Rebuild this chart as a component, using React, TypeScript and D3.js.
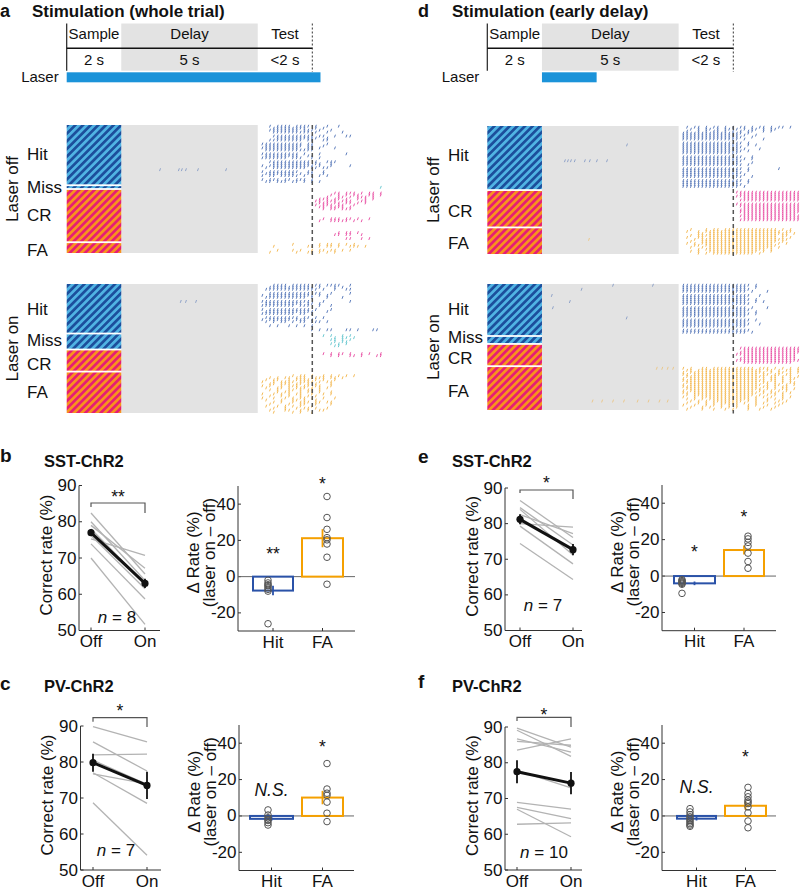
import React from "react";
import * as d3 from "d3";

const FONT = '"Liberation Sans", Arial, Helvetica, sans-serif';

/* ====================== DATA ====================== */
// trial timeline
const epochNames = ["Sample", "Delay", "Test"];
const epochDurations = ["2 s", "5 s", "<2 s"];
const epochEdges = [0, 2, 7, 9];
const laserWholeTrial = [0, 9.3];
const laserEarlyDelay = [2, 4];

// lick rasters: each row = one trial, each char = one 0.14 s bin starting at 7.1 s ('|' = lick)
const outcomeNames = ["Hit", "Miss", "CR", "FA"];
const lickBinStart = 7.1;
const lickBinWidth = 0.14;

const trialsWholeOff = [30, 1, 26, 5];
const trialsWholeOn = [24, 7, 10, 20];
const trialsEarlyOff = [32, 0, 18, 13];
const trialsEarlyOn = [25, 3, 10, 21];

const licksWholeOffHit = [
  "..|.||||.||||.|..|..|", "...|||||||||..|.|", "..||||||||.|||.|..|", "...||||||||||.|..|...|", "",
  "...|||||||||||.||..|..||", "....|||||||||||..|", "..|||||||||.||..||", "", "|||||||||||.||...|",
  ".||||||||||.||..|", "||||||||||..||.|...|", ".|||||||||||||", "", "||||||||||.|...|......|",
  ".|||||||||..||", "|||||||.|||..|.|", "", "..|||||||||||.|..|||", "...||||||||||.||..|",
  "|.||||||||||||.|..|....|", ".|.|||||||||.||.||", "", "|.||||||||..||..|", ".||||||||.|.||..|",
  "|.||.|||||.|.|.|.|", "", "|.|||.||.|||.|", ".||.|||.||.|.|.|", "",
];
const licksWholeOffMiss = ["...............................|"];
const licksWholeOffCR = [
  "", "...................||.|||.|.||.|", "..................|.|.|.||..||.|", ".................|..||.|.|||.|",
  "...............|||.||.|..|.|.|", "..............||.|||.|||..||", "...............|||.||.||.|.|",
  "..............|.|||.||..|", "...............||.||||.|", "................|.||.|||", "", "", "", "",
  "................|.|||.||.|..|", "...............|..|||||.|.|", "", "", "", "", "",
  "....................|.||.|", "...................||.||..|", "", "......................||..|.|", "",
];
const licksWholeOffFA = [
  "........|......|.||.|.|.|", "...|........||.|.||.|..|||.|", "",
  "....|...|.|..|.||.||.|.|", "..|......|..||.|.|.|",
];
const licksWholeOnHit = [
  "...||||.|||||.||.||||..|", "..||||||||||||.|...|.|", ".||||||||||||||.|..|..||", "",
  "..|||||||||||.||..|....|", "|.||||||||||||.|.|", ".|||||||||||.|...|...|", "",
  "|||||||||||||...|......|", ".||||||||||.||.|", "|||||||||.|||..|..|", "",
  "|.|||||||||||.|...|", ".|||||||||||||...|", "|||||||||.||.|", "",
  ".|||||||||.||.|.|", "|.||||||.|||.|", ".|.|.||.|.||.|||.|", "",
  "..|.|..|.|.|.|", "", ".............|.|.||...||.|...||", "",
];
const licksWholeOnMiss = [
  "................|.|..|.|", "...................|.||.|", "..................||.|.|",
  "...................|.||", "..................|.|.|", "...................||", "",
];
const licksWholeOnCR = [
  "", "................|.|.||.|..|.|..|", "..................|.|..||.|...||", "", "", "", "", "", "", "",
];
const licksWholeOnFA = [
  "", "........|.||.|..|.|.|.|.|", "..|.|.||.|||.||||.||.|", ".|.||..|.||||.|.|..|",
  "|..|.||||.||||.|.||", "..||.|||.||.|.|...|", "|.|..|.|||.||.||..|", ".|..||.|.|||.|.|.|",
  "..|.|..||.|.||.|", "....|.||..|.||.|..|", "|..|.|.|.||..|..|.|", "..|..|.|..|.|.|",
  "|..|..|.|.||.|..|..|", ".|...|..||.|..|", "...|.|..|.|||.||.||", "..|....|..||..|...|",
  ".|..|.|.|.|..|", "...|..|..|.||.|..|", "..|...||..|.|..||", "...|....|.|..|",
];

const licksEarlyOffHit = [
  ".|.||.|.||.|.|.||.|.||.|.||.|", "..|.|.||.|.||.|.|.||.|.||", ".|..|.|.||.|.|.|.||..|.|",
  "||||||||||||||||.|", "|||||||||||||||.|..|", "||||||||||||||||..|", "|||||||||||||||.|....|", "",
  "||||||||||||||||.|", "|||||||||||||||..|.|", "||||||||||||||||", "|||||||||||||||.|...|",
  "||||||||||||||||.|", "|||||||||||||||", "", "||||||||||||||||..|",
  "|||||||||||||||.|.|", "||||||||||||||||", "|||||||||||||||...|", "||||||||||||||||.|",
  "", "||||||||||||||||.|.......|", "|||||||||||||||..|", "||||||||||||||||",
  "|||||||||||||||.|", "||||||||||||||||..|", "", "||||||||||||||||.|",
  "|||||||||||||||..|", "||||||||||||||||", "|||||||||||||||.|", "",
];
const licksEarlyOffMiss: string[] = [];
const licksEarlyOffCR = [
  "..............|||||||||||||||||", "...............||||||||||||||||", "..............||||||||||||||||||",
  "................|||||||||||||||", "...............|||||||||||||||||", "",
  "..............||||||||||||||||||", "...............||||||||||||||||", "................|||||||||||||||||",
  "...............|||||||||||||||||", "...............||||||||||||||||||", "................||||||||||||||",
  "...............||||||||||||||||||", "................|||||||||||||||", "...............||||||||||||||||", "", "", "",
];
const licksEarlyOffFA = [
  "..|...|.||.||||||||||||||.|.|", ".|..|.||||||||||||||||||||.||", "....||.|||||||||||||||||||||.|",
  "..|.|||||||||||||||||||||.||", ".|..||.||||||||||||||||||.|.|", "...|.|||||||||||||||||||||||",
  "..|..||||||||||||||||||||.|", ".|.|.|||||||||||||||||||.|.|", "...||.|||||||||||||||||||",
  "..|..|.|||||||||||||||||.|", "....|.||||||||||||||||.|", "..|.|..|||||||||||||.|.|", "....|.|.|||||||||||.|",
];
const licksEarlyOnHit = [
  "||||||||||||||||||.|", "|||||||||||||||||..|", "||||||||||||||||||", "|||||||||||||||||.|...|", "",
  "||||||||||||||||||..|", "|||||||||||||||||", "||||||||||||||||||.|", "|||||||||||||||||..|.|",
  "||||||||||||||||||", "", "|||||||||||||||||.|...|", "||||||||||||||||||", "|||||||||||||||||..|",
  "||||||||||||||||||.|", "|||||||||||||||||", "", "||||||||||||||||||.|", "|||||||||||||||||",
  "||||||||||||||||||..|", "|||||||||||||||||", "", "||||||||||||||||||", "|||||||||||||||||.|", "",
];
const licksEarlyOnMiss = ["", "", ""];
const licksEarlyOnCR = [
  "", "...............||||||||||||||||", "................|||||||||||||||", "...............|||||||||||||||||",
  "..............||||||||||||||||", "................||||||||||||||", "...............|||||||||||||||",
  "..............|||||||||||||||||", "................|||||||||||||", "",
];
const licksEarlyOnFA = [
  "|.|..||.|||||||||||.|||.|.|.|.|", ".||.|||||||||||||||||.||.|.||.|", "|.||||||||||||||||||||.|.||.|.|",
  "||.|||||||||||||||||.||.||.||", ".|||||||||||||||||||||.||.|.|.|", "|.||||||||||||||||||.|.||.|.||",
  "||||||||||||||||||||||.||.|.|", ".|||||||||||||||||||.||.|.|.||", "|.|||||||||||||||||||.|.||.|.|",
  "||||||||||||||||||||.||.|.||", ".||||||||||||||||||||.|.|.||.|", "|.|||||||||||||||||.||.|.|.|",
  "||.|||||||||||||||||.|.||.|.|", ".|.||||||||||||||||.|.|.|.|", "|..|.|||||||||||||.|.|.|..|.|",
  ".|.|.|.|||||||||||.|..|.|.|", "..|.|.|.||||||||.|.|..|..|.|", ".|..|.|.|.|||||.|..|.|..|.|",
  "|..|..|.|.|.|.|..|.|..|..|", "..|..|.|..|.|.|..|...|..|", ".|...|..|..|.|...|..|..|",
];

// licks during the delay: [outcome index, trial row, lick times (s)]
const delayLicksWholeOff: [number, number, number[]][] = [[0, 22, [3.42, 4.11, 4.22, 4.37, 4.81, 5.84]]];
const delayLicksWholeOn: [number, number, number[]][] = [[0, 8, [4.18, 4.37, 4.74]]];
const delayLicksEarlyOff: [number, number, number[]][] = [
  [0, 17, [2.84, 2.95, 3.06, 3.2, 3.57, 3.75, 4.01, 4.38]], [0, 9, [5.11]], [3, 5, [3.72]],
];
const delayLicksEarlyOn: [number, number, number[]][] = [
  [0, 0, [4.6, 6.06]], [0, 2, [3.45]], [0, 5, [2.36]], [0, 8, [3.02]], [0, 11, [2.4]], [0, 16, [5.1]],
  [3, 0, [6.2, 6.4, 6.6, 6.8]], [3, 16, [3.85, 4.2, 4.6, 5.0, 5.5, 5.9, 6.3, 6.6]],
];

// behavioural statistics
const offOnLabels = ["Off", "On"];
const deltaLabels = ["Hit", "FA"];
const rateTicks = [50, 60, 70, 80, 90];
const deltaTicks = [-20, 0, 20, 40];

const sstWholeOff = [82.4, 80, 79, 78, 76.2, 75.3, 73.9, 70];
const sstWholeOn = [65.6, 63.8, 67.2, 62.9, 61.5, 70.7, 58.7, 51.7];
const sstWholeMean = [77, 63];
const sstWholeSem = [0.9, 1.3];
const sstWholeHit = [-2, -3.5, -4.5, -5, -6, -7, -8, -26];
const sstWholeFA = [44.2, 32.6, 26.1, 21.5, 20.3, 18, 10.7, -4.2];
const sstWholeBars = [-7.7, 21.2];
const sstWholeBarErr = [2.6, 5];
const sstWholeSig = ["**", "**", "*"];

const pvWholeOff = [89.8, 85.6, 82, 80.5, 76.7, 77, 68.7];
const pvWholeOn = [85.6, 77.5, 82.2, 73.8, 73.9, 68.5, 54.1];
const pvWholeMean = [79.8, 73.5];
const pvWholeSem = [2.5, 3.8];
const pvWholeHit = [3.3, 0.5, -1, -2, -2.5, -3.7, -5];
const pvWholeFA = [28.8, 14.8, 12.5, 11.3, 7.6, 1.5, -3.1];
const pvWholeBars = [-1.6, 10.1];
const pvWholeBarErr = [1, 3.7];
const pvWholeSig = ["*", "N.S.", "*"];

const sstEarlyOff = [86.5, 84.5, 84, 82.5, 80, 79.3, 74.4];
const sstEarlyOn = [76.1, 74, 71.2, 77.2, 79, 68.7, 64.3];
const sstEarlyMean = [81.2, 72.7];
const sstEarlySem = [1.4, 1.6];
const sstEarlyHit = [-2, -2.5, -3, -3.5, -4, -4.5, -9.5];
const sstEarlyFA = [21.9, 20.4, 18.5, 16.5, 12.6, 8, 4.3];
const sstEarlyBars = [-4, 14.3];
const sstEarlyBarErr = [1, 2.5];
const sstEarlySig = ["*", "*", "*"];

const pvEarlyOff = [89.7, 89.1, 86.7, 86, 83.5, 77.9, 68.9, 67.5, 67, 62.8];
const pvEarlyOn = [84.4, 81.8, 83, 84.9, 86.7, 73, 67, 64.4, 59.3, 63.2];
const pvEarlyMean = [77.5, 74.3];
const pvEarlySem = [3.2, 3.1];
const pvEarlyHit = [4, 2.2, 0.7, -0.5, -1.5, -2.4, -3.3, -4.2, -5, -5.7];
const pvEarlyFA = [15.7, 12.4, 10.5, 8.7, 7.7, 6.8, 5, 1.7, -2.8, -6.5];
const pvEarlyBars = [-1.5, 5.6];
const pvEarlyBarErr = [1, 2.3];
const pvEarlySig = ["*", "N.S.", "*"];

/* ====================== STYLE ====================== */
const outcomeColors = ["#4a6db3", "#5cc3cc", "#e6449d", "#f2b244"];
const hitBarColor = "#2a52a8";
const faBarColor = "#f5a000";
const AX_FS = 17;

/* ====================== COMPONENTS ====================== */
function Header({ x0, x9, letter, letterX, letterY, title, titleX, titleY, laser }: any) {
  const xs = d3.scaleLinear().domain([0, 9]).range([x0, x9]);
  const top = 23.5, bot = 70.7, lineY = 48.3;
  return (
    <g>
      <text x={letterX} y={letterY} fontSize={18} fontWeight="bold">{letter}</text>
      <text x={titleX} y={titleY} fontSize={17} fontWeight="bold">{title}</text>
      <rect x={xs(epochEdges[1])} y={top} width={xs(epochEdges[2]) - xs(epochEdges[1])} height={bot - top} fill="#e3e3e3" />
      <line x1={xs(0)} x2={xs(0)} y1={top} y2={bot} stroke="#222" strokeWidth={1.2} />
      <line x1={xs(0)} x2={xs(9)} y1={lineY} y2={lineY} stroke="#111" strokeWidth={1.6} />
      <line x1={xs(9)} x2={xs(9)} y1={top} y2={72} stroke="#333" strokeWidth={1} strokeDasharray="2,2" />
      {epochNames.map((n, i) => (
        <text key={n} x={xs((epochEdges[i] + epochEdges[i + 1]) / 2)} y={39.3} textAnchor="middle" fontSize={15}>{n}</text>
      ))}
      {epochDurations.map((n, i) => (
        <text key={n} x={xs((epochEdges[i] + epochEdges[i + 1]) / 2)} y={65} textAnchor="middle" fontSize={15}>{n}</text>
      ))}
      <text x={xs(0) - 8} y={81.7} textAnchor="end" fontSize={15}>Laser</text>
      <rect x={xs(laser[0])} y={72.3} width={xs(laser[1]) - xs(laser[0])} height={10} fill="#1b93d9" />
    </g>
  );
}

function Raster({ x0, x9, y0, y1, counts, licks, delay, title, labelX, rotX, labelDy }: any) {
  const xs = d3.scaleLinear().domain([0, 9]).range([x0, x9]);
  const gap = 1.8;
  const groups = counts.map((n: number, i: number) => ({ i, n })).filter((g: any) => g.n > 0);
  const total = d3.sum(counts) as number;
  const h = (y1 - y0 - gap * (groups.length - 1)) / total;
  let cy = y0;
  const blocks = groups.map((g: any) => {
    const b = { ...g, top: cy, bot: cy + g.n * h };
    cy = b.bot + gap;
    return b;
  });
  const ticks: any[] = [];
  blocks.forEach((b: any) => {
    (licks[b.i] || []).forEach((row: string, r: number) => {
      for (let k = 0; k < row.length; k++) {
        if (row[k] !== "|") continue;
        const x = xs(lickBinStart + (k + 0.5) * lickBinWidth);
        if (x > 799) continue;
        ticks.push({ x, y: b.top + r * h, c: outcomeColors[b.i], o: 1 });
      }
    });
  });
  delay.forEach(([gi, r, times]: any) => {
    const b = blocks.find((bb: any) => bb.i === gi);
    if (!b) return;
    times.forEach((t: number) => ticks.push({ x: xs(t), y: b.top + r * h, c: outcomeColors[gi], o: 0.6 }));
  });
  return (
    <g>
      <rect x={xs(2)} y={y0} width={xs(7) - xs(2)} height={y1 - y0} fill="#e3e3e3" />
      {blocks.map((b: any) => (
        <rect key={b.i} x={xs(0)} y={b.top} width={xs(2) - xs(0)} height={b.bot - b.top}
          fill={b.i < 2 ? "url(#hatchBlue)" : "url(#hatchRed)"} />
      ))}
      {ticks.map((t, i) => (
        <line key={i} x1={t.x + 0.5} x2={t.x - 0.5} y1={t.y - 0.2} y2={t.y + h + 0.6}
          stroke={t.c} strokeWidth={0.9} opacity={t.o} />
      ))}
      <line x1={xs(9)} x2={xs(9)} y1={y0} y2={y1 + 3.5} stroke="#555" strokeWidth={1.5} strokeDasharray="4,3" />
      {blocks.map((b: any) => (
        <text key={"l" + b.i} x={labelX} y={(b.top + b.bot) / 2 + labelDy[b.i]} dominantBaseline="central" fontSize={AX_FS}>
          {outcomeNames[b.i]}
        </text>
      ))}
      <text transform={`translate(${rotX},${(y0 + y1) / 2}) rotate(-90)`} textAnchor="middle" fontSize={AX_FS}>{title}</text>
    </g>
  );
}

function Star({ x, y, s }: any) {
  if (s === "N.S.") return <text x={x} y={y + 6} textAnchor="middle" fontSize={17.5} fontStyle="italic">N.S.</text>;
  return <text x={x} y={y + 10} textAnchor="middle" fontSize={17.5}>{s}</text>;
}

function StatPanel({ P, off, on, mean, sem, hit, fa, bars, barErr, sig, n }: any) {
  const L = P.L, R = P.R;
  const yl = d3.scaleLinear().domain([50, 90]).range([L.y50, L.y90]);
  const xl = [L.offX, L.onX];
  const yr = d3.scaleLinear().domain([-30, 50]).range([R.yBot, R.yTop]);
  const barX = [R.hit, R.fa];
  const barC = [hitBarColor, faBarColor];
  const dotX = [R.hitDotX, R.faDotX];
  const line = d3.line<number>().x((_, i) => xl[i]).y((v) => yl(v));
  return (
    <g>
      <text x={P.letterX} y={P.letterY} fontSize={19} fontWeight="bold">{P.letter}</text>
      <text x={P.titleX} y={P.titleY} fontSize={16.5} fontWeight="bold">{P.title}</text>
      {/* paired plot */}
      <line x1={L.axisX} x2={L.axisX} y1={yl(50)} y2={yl(90)} stroke="#333" />
      <line x1={L.axisX} x2={L.xEnd} y1={yl(50)} y2={yl(50)} stroke="#333" />
      {rateTicks.map((t) => (
        <g key={t}>
          <line x1={L.axisX} x2={L.axisX + 3} y1={yl(t)} y2={yl(t)} stroke="#333" />
          <text x={L.axisX - 2.5} y={yl(t)} textAnchor="end" dominantBaseline="central" fontSize={AX_FS}>{t}</text>
        </g>
      ))}
      {offOnLabels.map((t, i) => (
        <g key={t}>
          <line x1={xl[i]} x2={xl[i]} y1={yl(50)} y2={yl(50) - 3} stroke="#333" />
          <text x={xl[i]} y={yl(50) + 16.5} textAnchor="middle" fontSize={AX_FS}>{t}</text>
        </g>
      ))}
      <text transform={`translate(${L.axisX - 27.5},${(yl(50) + yl(90)) / 2 - 3}) rotate(-90)`} textAnchor="middle" fontSize={AX_FS}>Correct rate (%)</text>
      {off.map((v: number, i: number) => (
        <path key={i} d={line([v, on[i]]) as string} stroke="#b3b3b3" strokeWidth={1.3} fill="none" />
      ))}
      <path d={line(mean) as string} stroke="#111" strokeWidth={3} fill="none" />
      {mean.map((m: number, i: number) => (
        <g key={i}>
          <line x1={xl[i]} x2={xl[i]} y1={yl(m - sem[i])} y2={yl(m + sem[i])} stroke="#111" strokeWidth={1.8} />
          <circle cx={xl[i]} cy={yl(m)} r={3.6} fill="#111" />
        </g>
      ))}
      <path d={`M${L.offX},${L.brLy}V${L.brY}H${L.onX}V${L.brRy}`} stroke="#555" strokeWidth={1.2} fill="none" />
      <Star x={(L.offX + L.onX) / 2} y={L.starY} s={sig[0]} />
      <text x={L.nX} y={L.nY + 6} textAnchor="middle" fontSize={AX_FS}>
        <tspan fontStyle="italic">n</tspan> = {n}
      </text>
      {/* delta plot */}
      <line x1={R.axisX} x2={R.axisX} y1={yr(-30)} y2={yr(50)} stroke="#333" />
      <line x1={R.axisX} x2={R.end} y1={yr(-30)} y2={yr(-30)} stroke="#333" />
      {deltaTicks.map((t) => (
        <g key={t}>
          <line x1={R.axisX} x2={R.axisX + 3} y1={yr(t)} y2={yr(t)} stroke="#333" />
          <text x={R.axisX - 2.5} y={yr(t)} textAnchor="end" dominantBaseline="central" fontSize={AX_FS}>{t}</text>
        </g>
      ))}
      {deltaLabels.map((t, i) => {
        const cx = (barX[i][0] + barX[i][1]) / 2;
        return (
          <g key={t}>
            <line x1={cx} x2={cx} y1={yr(-30)} y2={yr(-30) - 3} stroke="#333" />
            <text x={cx} y={yr(-30) + 16.5} textAnchor="middle" fontSize={AX_FS}>{t}</text>
          </g>
        );
      })}
      <text transform={`translate(${R.axisX - 39},${(yr(-30) + yr(50)) / 2 - 6}) rotate(-90)`} textAnchor="middle" fontSize={AX_FS}>Δ Rate (%)</text>
      <text transform={`translate(${R.axisX - 23},${(yr(-30) + yr(50)) / 2 - 6}) rotate(-90)`} textAnchor="middle" fontSize={AX_FS}>(laser on – off)</text>
      <line x1={R.axisX} x2={R.end} y1={yr(0)} y2={yr(0)} stroke="#666" strokeWidth={1} />
      {bars.map((b: number, i: number) => {
        const cx = (barX[i][0] + barX[i][1]) / 2;
        return (
          <g key={i}>
            <rect x={barX[i][0]} y={Math.min(yr(0), yr(b))} width={barX[i][1] - barX[i][0]} height={Math.abs(yr(0) - yr(b))}
              fill="none" stroke={barC[i]} strokeWidth={2} />
            <line x1={cx} x2={cx} y1={yr(b - barErr[i])} y2={yr(b + barErr[i])} stroke={barC[i]} strokeWidth={1.8} />
          </g>
        );
      })}
      {[hit, fa].map((vals: number[], i: number) =>
        vals.map((v, j) => (
          <circle key={i + "-" + j} cx={dotX[i]} cy={yr(v)} r={3.3} fill="none" stroke="#555" strokeWidth={1} />
        ))
      )}
      <Star x={(R.hit[0] + R.hit[1]) / 2} y={R.hitSigY} s={sig[1]} />
      <Star x={(R.fa[0] + R.fa[1]) / 2} y={R.faSigY} s={sig[2]} />
    </g>
  );
}

/* ====================== LAYOUT ====================== */
const layoutB = {
  letter: "b", letterX: 0, letterY: 462, title: "SST-ChR2", titleX: 44, titleY: 467,
  L: { axisX: 79, offX: 91, onX: 145, xEnd: 160, y90: 485.5, y50: 630.5, brY: 503, brLy: 507, brRy: 513, starY: 493, nX: 117, nY: 617 },
  R: { axisX: 238, hit: [253, 293], fa: [302, 343], end: 355, yTop: 486, yBot: 631, hitDotX: 268, faDotX: 327, hitSigY: 550, faSigY: 480 },
};
const layoutC = {
  letter: "c", letterX: 0, letterY: 690, title: "PV-ChR2", titleX: 44, titleY: 692,
  L: { axisX: 80.5, offX: 93, onX: 147, xEnd: 161, y90: 726, y50: 870, brY: 717.7, brLy: 721.7, brRy: 727, starY: 707, nX: 116, nY: 850 },
  R: { axisX: 239, hit: [250, 293], fa: [302, 343], end: 354, yTop: 725, yBot: 870.5, hitDotX: 268, faDotX: 327, hitSigY: 790, faSigY: 743 },
};
const layoutE = {
  letter: "e", letterX: 418, letterY: 463, title: "SST-ChR2", titleX: 452, titleY: 467,
  L: { axisX: 505, offX: 520, onX: 573, xEnd: 582, y90: 488, y50: 630.5, brY: 490, brLy: 493, brRy: 499, starY: 479, nX: 543, nY: 605 },
  R: { axisX: 662, hit: [674, 715], fa: [724, 764], end: 776, yTop: 485, yBot: 630.7, hitDotX: 682, faDotX: 748, hitSigY: 548, faSigY: 513 },
};
const layoutF = {
  letter: "f", letterX: 418, letterY: 688, title: "PV-ChR2", titleX: 452, titleY: 692,
  L: { axisX: 505, offX: 517, onX: 571, xEnd: 582, y90: 727, y50: 870, brY: 717.3, brLy: 721, brRy: 727, starY: 711, nX: 544, nY: 852 },
  R: { axisX: 662, hit: [677, 716], fa: [725, 766], end: 776, yTop: 725, yBot: 870.5, hitDotX: 690, faDotX: 748, hitSigY: 787, faSigY: 753 },
};

export default function App() {
  return (
    <svg width={800} height={890} style={{ position: "absolute", left: 0, top: 0, background: "#fff" }}
      fontFamily={FONT} fill="#111">
      <defs>
        <pattern id="hatchBlue" patternUnits="userSpaceOnUse" width={5.4} height={5.4} patternTransform="rotate(45)">
          <rect width={5.4} height={5.4} fill="#50b3e3" />
          <rect width={2.7} height={5.4} fill="#1c4f9c" />
        </pattern>
        <pattern id="hatchRed" patternUnits="userSpaceOnUse" width={5.4} height={5.4} patternTransform="rotate(45)">
          <rect width={5.4} height={5.4} fill="#f7931e" />
          <rect width={2.7} height={5.4} fill="#e61e73" />
        </pattern>
      </defs>
      <rect width={800} height={890} fill="#fff" />
      <Header x0={66.7} x9={312.3} letter="a" letterX={0} letterY={17} title="Stimulation (whole trial)" titleX={32} titleY={16.5} laser={laserWholeTrial} />
      <Header x0={487.3} x9={733.3} letter="d" letterX={418} letterY={16.5} title="Stimulation (early delay)" titleX={452} titleY={17} laser={laserEarlyDelay} />
      <Raster x0={66.7} x9={312.3} y0={125} y1={253} counts={trialsWholeOff}
        licks={[licksWholeOffHit, licksWholeOffMiss, licksWholeOffCR, licksWholeOffFA]} delay={delayLicksWholeOff}
        title="Laser off" labelX={27} rotX={17.5} labelDy={[0, 0, 0, 2]} />
      <Raster x0={66.7} x9={312.3} y0={284} y1={413} counts={trialsWholeOn}
        licks={[licksWholeOnHit, licksWholeOnMiss, licksWholeOnCR, licksWholeOnFA]} delay={delayLicksWholeOn}
        title="Laser on" labelX={27} rotX={17.5} labelDy={[1, -1, 4, 0]} />
      <Raster x0={487.3} x9={733.3} y0={126} y1={254} counts={trialsEarlyOff}
        licks={[licksEarlyOffHit, licksEarlyOffMiss, licksEarlyOffCR, licksEarlyOffFA]} delay={delayLicksEarlyOff}
        title="Laser off" labelX={448} rotX={439} labelDy={[-2, 0, 3, 2]} />
      <Raster x0={487.3} x9={733.3} y0={284} y1={410} counts={trialsEarlyOn}
        licks={[licksEarlyOnHit, licksEarlyOnMiss, licksEarlyOnCR, licksEarlyOnFA]} delay={delayLicksEarlyOn}
        title="Laser on" labelX={448} rotX={439} labelDy={[0, -2, 3, 3]} />
      <StatPanel P={layoutB} off={sstWholeOff} on={sstWholeOn} mean={sstWholeMean} sem={sstWholeSem}
        hit={sstWholeHit} fa={sstWholeFA} bars={sstWholeBars} barErr={sstWholeBarErr} sig={sstWholeSig} n={sstWholeOff.length} />
      <StatPanel P={layoutC} off={pvWholeOff} on={pvWholeOn} mean={pvWholeMean} sem={pvWholeSem}
        hit={pvWholeHit} fa={pvWholeFA} bars={pvWholeBars} barErr={pvWholeBarErr} sig={pvWholeSig} n={pvWholeOff.length} />
      <StatPanel P={layoutE} off={sstEarlyOff} on={sstEarlyOn} mean={sstEarlyMean} sem={sstEarlySem}
        hit={sstEarlyHit} fa={sstEarlyFA} bars={sstEarlyBars} barErr={sstEarlyBarErr} sig={sstEarlySig} n={sstEarlyOff.length} />
      <StatPanel P={layoutF} off={pvEarlyOff} on={pvEarlyOn} mean={pvEarlyMean} sem={pvEarlySem}
        hit={pvEarlyHit} fa={pvEarlyFA} bars={pvEarlyBars} barErr={pvEarlyBarErr} sig={pvEarlySig} n={pvEarlyOff.length} />
    </svg>
  );
}
